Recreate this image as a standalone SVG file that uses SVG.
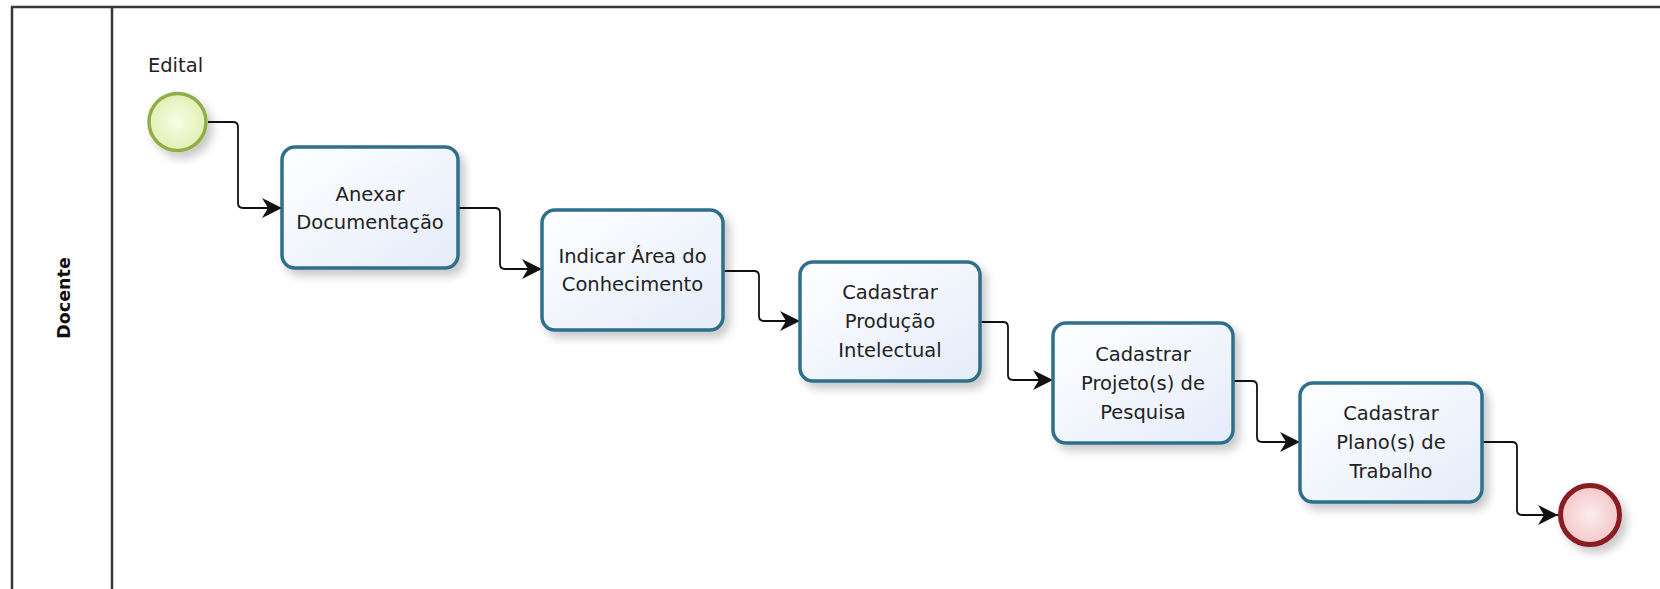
<svg xmlns="http://www.w3.org/2000/svg" width="1660" height="589" viewBox="0 0 1660 589">
<style>
.lbl{font-family:"DejaVu Sans","Liberation Sans",sans-serif;font-size:19.5px;fill:#222;text-anchor:middle}
.task{fill:url(#tg);stroke:#2f6f8c;stroke-width:3.5}
.flow{fill:none;stroke:#111;stroke-width:1.8}
</style>
<defs>
<linearGradient id="tg" x1="0" y1="0" x2="1" y2="1">
<stop offset="0" stop-color="#ffffff"/><stop offset="1" stop-color="#e4ecfa"/>
</linearGradient>
<radialGradient id="sg" cx="0.5" cy="0.5" r="0.5">
<stop offset="0" stop-color="#f8fce8"/><stop offset="1" stop-color="#e2f0b4"/>
</radialGradient>
<radialGradient id="eg" cx="0.5" cy="0.5" r="0.5">
<stop offset="0" stop-color="#fcecec"/><stop offset="1" stop-color="#f4c8c8"/>
</radialGradient>
<filter id="sh" x="-20%" y="-20%" width="150%" height="150%">
<feGaussianBlur in="SourceAlpha" stdDeviation="5"/>
<feOffset dx="5" dy="6" result="b"/>
<feComponentTransfer><feFuncA type="linear" slope="0.22"/></feComponentTransfer>
<feMerge><feMergeNode/><feMergeNode in="SourceGraphic"/></feMerge>
</filter>
<marker id="arr" markerWidth="22" markerHeight="22" refX="20" refY="10" orient="auto" markerUnits="userSpaceOnUse">
<path d="M0,0 L20,10 L0,20 L6,10 Z" fill="#111"/>
</marker>
</defs>
<rect width="1660" height="589" fill="#fff"/>
<g id="pool">
<rect x="12" y="7" width="1700" height="640" fill="none" stroke="#383838" stroke-width="2.5"/>
<line x1="112" y1="7" x2="112" y2="589" stroke="#383838" stroke-width="2.5"/>
<text x="0" y="0" transform="translate(70,298) rotate(-90)" style="font-family:'DejaVu Sans','Liberation Sans',sans-serif;font-size:17.5px;font-weight:bold;fill:#111;text-anchor:middle">Docente</text>
</g>
<g id="connectors">
<path class="flow" d="M208,122 H233 Q238,122 238,127 V203 Q238,208 243,208 H282" marker-end="url(#arr)"/>
<path class="flow" d="M458,208 H495 Q500,208 500,213 V264 Q500,269 505,269 H542" marker-end="url(#arr)"/>
<path class="flow" d="M723,271 H754 Q759,271 759,276 V316 Q759,321 764,321 H800" marker-end="url(#arr)"/>
<path class="flow" d="M980,322 H1003 Q1008,322 1008,327 V375 Q1008,380 1013,380 H1053" marker-end="url(#arr)"/>
<path class="flow" d="M1233,381 H1252 Q1257,381 1257,386 V437 Q1257,442 1262,442 H1300" marker-end="url(#arr)"/>
<path class="flow" d="M1482,442 H1512 Q1517,442 1517,447 V510 Q1517,515 1522,515 H1558" marker-end="url(#arr)"/>
</g>
<g id="start">
<circle cx="177.5" cy="122" r="28.5" fill="url(#sg)" stroke="#8fae45" stroke-width="3.5" filter="url(#sh)"/>
<text class="lbl" x="175.5" y="72">Edital</text>
</g>
<g id="t1">
<rect class="task" x="282" y="147" width="176" height="121" rx="13" filter="url(#sh)"/>
<text class="lbl" x="370" y="201">Anexar</text>
<text class="lbl" x="370" y="229">Documentação</text>
</g>
<g id="t2">
<rect class="task" x="542" y="210" width="181" height="120" rx="13" filter="url(#sh)"/>
<text class="lbl" x="632.5" y="263">Indicar Área do</text>
<text class="lbl" x="632.5" y="291">Conhecimento</text>
</g>
<g id="t3">
<rect class="task" x="800" y="262" width="180" height="119" rx="13" filter="url(#sh)"/>
<text class="lbl" x="890" y="299">Cadastrar</text>
<text class="lbl" x="890" y="328">Produção</text>
<text class="lbl" x="890" y="357">Intelectual</text>
</g>
<g id="t4">
<rect class="task" x="1053" y="323" width="180" height="120" rx="13" filter="url(#sh)"/>
<text class="lbl" x="1143" y="361">Cadastrar</text>
<text class="lbl" x="1143" y="390">Projeto(s) de</text>
<text class="lbl" x="1143" y="419">Pesquisa</text>
</g>
<g id="t5">
<rect class="task" x="1300" y="383" width="182" height="119" rx="13" filter="url(#sh)"/>
<text class="lbl" x="1391" y="420">Cadastrar</text>
<text class="lbl" x="1391" y="449">Plano(s) de</text>
<text class="lbl" x="1391" y="478">Trabalho</text>
</g>
<g id="end">
<circle cx="1590" cy="515" r="29.5" fill="url(#eg)" stroke="#8b1c24" stroke-width="5" filter="url(#sh)"/>
</g>
</svg>
